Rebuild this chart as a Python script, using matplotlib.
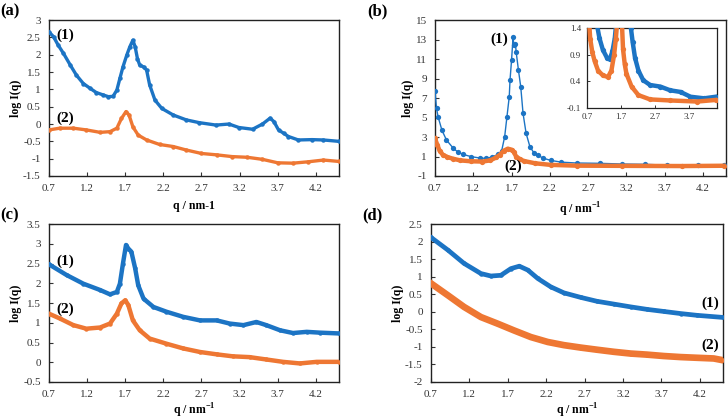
import numpy as np
import matplotlib
matplotlib.use("Agg")
import matplotlib.pyplot as plt

plt.rcParams['font.family'] = ['Liberation Serif', 'DejaVu Serif']
plt.rcParams['mathtext.fontset'] = 'custom'
plt.rcParams['mathtext.rm'] = 'Liberation Serif'
plt.rcParams['mathtext.bf'] = 'Liberation Serif:bold'

BLUE = '#1c74c4'
ORANGE = '#ee7733'

# ---- panel (a) ----
qa1 = [0.70, 0.76, 0.82, 0.89, 0.98, 1.06, 1.15, 1.24, 1.32, 1.41, 1.48, 1.54, 1.59, 1.63,
       1.67, 1.72, 1.76, 1.80, 1.83, 1.86, 1.89, 1.94, 1.98, 2.02, 2.09, 2.18, 2.33, 2.50,
       2.67, 2.89, 3.06, 3.19, 3.37, 3.50, 3.60, 3.65, 3.71, 3.78, 3.84, 3.97, 4.15, 4.30, 4.50]
ya1 = [2.66, 2.52, 2.28, 2.04, 1.70, 1.41, 1.17, 1.03, 0.91, 0.84, 0.79, 0.80, 0.98, 1.32,
       1.65, 1.99, 2.23, 2.42, 2.23, 1.89, 1.70, 1.65, 1.56, 1.13, 0.69, 0.45, 0.26, 0.12,
       0.04, -0.03, 0.00, -0.10, -0.15, 0.00, 0.17, 0.07, -0.17, -0.27, -0.36, -0.46, -0.45,
       -0.46, -0.50]
qa2 = [0.70, 0.84, 1.02, 1.19, 1.37, 1.50, 1.59, 1.65, 1.71, 1.75, 1.80, 1.87, 1.98, 2.15,
       2.33, 2.50, 2.70, 2.90, 3.10, 3.30, 3.50, 3.70, 3.90, 4.10, 4.30, 4.50]
ya2 = [-0.17, -0.12, -0.12, -0.17, -0.24, -0.22, -0.12, 0.16, 0.36, 0.26, -0.08, -0.32,
       -0.46, -0.59, -0.65, -0.75, -0.85, -0.89, -0.94, -0.96, -1.02, -1.12, -1.13, -1.09,
       -1.04, -1.08]

# ---- panel (b) ----
qb1 = [0.70, 0.72, 0.74, 0.79, 0.85, 0.94, 1.00, 1.07, 1.17, 1.29, 1.37, 1.45, 1.52, 1.57,
       1.61, 1.64, 1.67, 1.68, 1.70, 1.72, 1.73, 1.75, 1.76, 1.79, 1.82, 1.85, 1.89, 1.94,
       1.99, 2.04, 2.11, 2.21, 2.35, 2.55, 2.85, 3.14, 3.44, 3.73, 4.13, 4.47]
yb1 = [7.72, 5.94, 5.09, 3.72, 2.69, 1.84, 1.45, 1.21, 0.99, 0.84, 0.81, 0.96, 1.21, 1.55,
       3.03, 5.09, 7.14, 8.85, 10.9, 13.3, 12.4, 12.6, 11.75, 9.87, 8.16, 5.43, 3.38, 2.00,
       1.40, 1.14, 0.84, 0.60, 0.42, 0.33, 0.30, 0.23, 0.20, 0.11, 0.08, 0.11]
qb2 = [0.70, 0.73, 0.76, 0.80, 0.86, 0.93, 1.03, 1.17, 1.32, 1.42, 1.50, 1.55, 1.60, 1.65,
       1.70, 1.73, 1.76, 1.81, 1.86, 2.01, 2.21, 2.55, 3.14, 3.93, 4.47]
yb2 = [2.85, 2.20, 1.60, 1.20, 0.95, 0.78, 0.60, 0.51, 0.48, 0.60, 0.90, 1.20, 1.60, 1.80,
       1.70, 1.45, 1.00, 0.72, 0.54, 0.30, 0.14, 0.06, 0.04, 0.02, 0.05]

# ---- panel (c) ----
qc1 = [0.70, 0.93, 1.15, 1.37, 1.50, 1.59, 1.63, 1.67, 1.71, 1.74, 1.78, 1.83, 1.87, 1.94,
       2.07, 2.24, 2.46, 2.68, 2.90, 3.07, 3.25, 3.42, 3.55, 3.73, 3.90, 4.08, 4.25, 4.50]
yc1 = [2.48, 2.21, 1.99, 1.83, 1.72, 1.78, 1.99, 2.50, 2.97, 2.88, 2.80, 2.38, 1.95, 1.61,
       1.40, 1.28, 1.15, 1.06, 1.06, 0.98, 0.94, 1.02, 0.94, 0.81, 0.74, 0.77, 0.75, 0.73]
qc2 = [0.70, 0.84, 1.02, 1.19, 1.37, 1.50, 1.59, 1.65, 1.70, 1.74, 1.80, 1.89, 2.02, 2.24,
       2.46, 2.68, 2.90, 3.11, 3.33, 3.55, 3.77, 3.99, 4.21, 4.50]
yc2 = [1.23, 1.11, 0.94, 0.85, 0.88, 0.98, 1.23, 1.49, 1.57, 1.45, 1.06, 0.81, 0.60, 0.47,
       0.35, 0.26, 0.20, 0.15, 0.13, 0.07, 0.01, -0.03, 0.01, 0.01]

# ---- panel (d) ----
qd1 = [0.70, 0.92, 1.13, 1.35, 1.48, 1.61, 1.74, 1.85, 1.96, 2.09, 2.26, 2.43, 2.65, 2.86,
       3.08, 3.30, 3.51, 3.73, 3.95, 4.16, 4.50]
yd1 = [2.12, 1.76, 1.38, 1.09, 1.02, 1.04, 1.23, 1.30, 1.19, 0.95, 0.71, 0.54, 0.41, 0.30,
       0.22, 0.14, 0.07, 0.01, -0.05, -0.10, -0.16]
qd2 = [0.70, 0.92, 1.13, 1.35, 1.57, 1.78, 2.00, 2.22, 2.43, 2.65, 2.86, 3.08, 3.30, 3.51,
       3.73, 3.95, 4.16, 4.38, 4.50]
yd2 = [0.81, 0.47, 0.14, -0.15, -0.34, -0.53, -0.72, -0.86, -0.95, -1.02, -1.08, -1.14,
       -1.19, -1.22, -1.26, -1.29, -1.31, -1.33, -1.38]

xticks = [0.7, 1.2, 1.7, 2.2, 2.7, 3.2, 3.7, 4.2]


def style(ax, ylim, ystep, fs=8):
    ax.set_xlim(0.7, 4.5)
    ax.set_ylim(*ylim)
    ax.set_xticks(xticks)
    ax.set_xticklabels([f"{t:.1f}" for t in xticks])
    yt = np.arange(ylim[0], ylim[1] + 1e-9, ystep)
    ax.set_yticks(yt)
    ax.set_yticklabels([f"{t:g}" for t in yt])
    ax.tick_params(direction='in', length=3, width=0.8, labelsize=fs, pad=6,
                   colors='#333333', labelcolor='#333333')
    for s in ax.spines.values():
        s.set_linewidth(1.0)
        s.set_color('#222222')


def draw(ax, q, y, color, lw=2.5, ms=3.2):
    ax.plot(q, y, '-', color=color, lw=lw, marker='o', ms=ms, mew=0, zorder=3)


fig = plt.figure(figsize=(7.28, 4.2), dpi=100)

# (a)
axa = fig.add_axes([0.0673, 0.581, 0.398, 0.371])
draw(axa, qa1, ya1, BLUE, lw=2.4)
draw(axa, qa2, ya2, ORANGE, lw=2.4)
style(axa, (-1.5, 3.0), 0.5)
axa.set_ylabel('log I(q)', fontsize=8.5, fontweight='bold', labelpad=1)
axa.set_xlabel('q / nm-1', fontsize=8.5, fontweight='bold', labelpad=5)
axa.text(0.8, 2.55, '(1)', fontsize=11, fontweight='bold', va='center')
axa.text(0.8, 0.17, '(2)', fontsize=11, fontweight='bold', va='center')
fig.text(0.0, 0.972, '(a)', fontsize=12, fontweight='bold', va='center')

# (b)
axb = fig.add_axes([0.5975, 0.581, 0.3997, 0.371])
draw(axb, qb1, yb1, BLUE, lw=1.0, ms=3.8)
draw(axb, qb2, yb2, ORANGE, lw=3.2, ms=3.8)
style(axb, (-1, 15), 2)
axb.set_ylabel('log I(q)', fontsize=8.5, fontweight='bold', labelpad=1)
axb.set_xlabel(r'q / nm$^{\mathbf{-1}}$', fontsize=8.5, fontweight='bold', labelpad=5)
axb.text(1.66, 13.0, '(1)', fontsize=11, fontweight='bold', ha='right', va='center')
axb.text(1.60, -0.05, '(2)', fontsize=11, fontweight='bold', va='center')
fig.text(0.505, 0.972, '(b)', fontsize=12, fontweight='bold', va='center')

# inset in (b)
axi = fig.add_axes([0.806, 0.743, 0.1786, 0.1905])
axi.plot(qb1, yb1, '-', color=BLUE, lw=3.2, marker='o', ms=3.8, mew=0, zorder=3)
axi.plot(qb2, yb2, '-', color=ORANGE, lw=3.2, marker='o', ms=3.8, mew=0, zorder=3)
axi.set_xlim(0.7, 4.5)
axi.set_ylim(-0.1, 1.4)
axi.set_xticks([0.7, 1.7, 2.7, 3.7])
axi.set_xticklabels(['0.7', '1.7', '2.7', '3.7'])
axi.set_yticks([-0.1, 0.4, 0.9, 1.4])
axi.set_yticklabels(['-0.1', '0.4', '0.9', '1.4'])
axi.tick_params(direction='in', length=2, width=0.7, labelsize=6.5, pad=4,
                colors='#333333', labelcolor='#333333')
for s in axi.spines.values():
    s.set_linewidth(0.9)
    s.set_color('#222222')

# (c)
axc = fig.add_axes([0.0673, 0.0905, 0.398, 0.376])
draw(axc, qc1, yc1, BLUE, lw=3.2, ms=3.2)
draw(axc, qc2, yc2, ORANGE, lw=3.2, ms=3.2)
style(axc, (-0.5, 3.5), 0.5)
axc.set_ylabel('log I(q)', fontsize=8.5, fontweight='bold', labelpad=1)
axc.set_xlabel(r'q / nm$^{\mathbf{-1}}$', fontsize=8.5, fontweight='bold', labelpad=2)
axc.text(0.8, 2.55, '(1)', fontsize=11, fontweight='bold', va='center')
axc.text(0.8, 1.35, '(2)', fontsize=11, fontweight='bold', va='center')
fig.text(0.0, 0.487, '(c)', fontsize=12, fontweight='bold', va='center')

# (d)
axd = fig.add_axes([0.592, 0.0905, 0.401, 0.376])
draw(axd, qd1, yd1, BLUE, lw=3.4, ms=3.2)
draw(axd, qd2, yd2, ORANGE, lw=4.8, ms=3.2)
style(axd, (-2.0, 2.5), 0.5)
axd.set_ylabel('log I(q)', fontsize=8.5, fontweight='bold', labelpad=1)
axd.set_xlabel(r'q / nm$^{\mathbf{-1}}$', fontsize=8.5, fontweight='bold', labelpad=2)
axd.text(4.45, 0.25, '(1)', fontsize=11, fontweight='bold', ha='right', va='center')
axd.text(4.45, -0.95, '(2)', fontsize=11, fontweight='bold', ha='right', va='center')
fig.text(0.498, 0.487, '(d)', fontsize=12, fontweight='bold', va='center')

fig.savefig('out.png', dpi=100)
